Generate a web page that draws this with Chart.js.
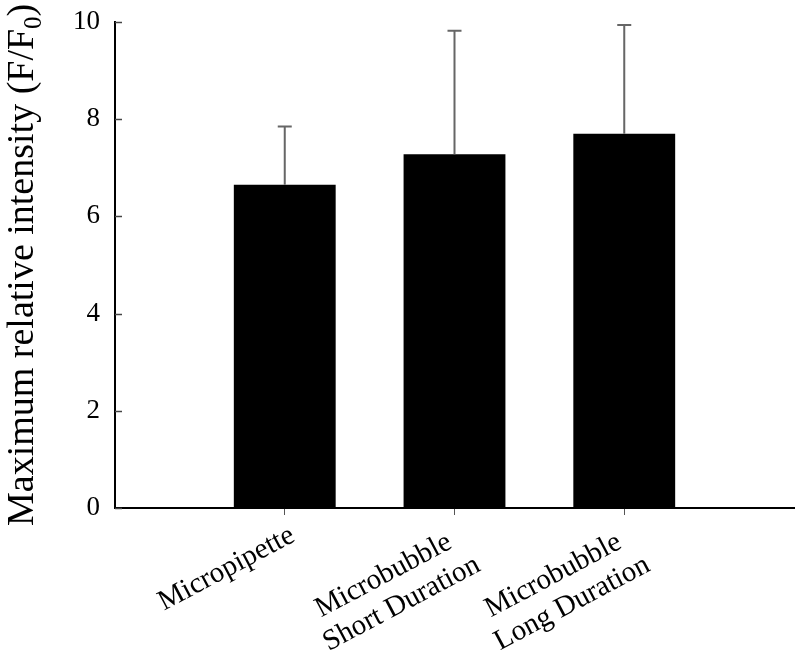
<!DOCTYPE html>
<html>
<head>
<meta charset="utf-8">
<script src="https://cdn.jsdelivr.net/npm/chart.js@4.4.1/dist/chart.umd.min.js"></script>
<style>
  html, body { margin: 0; padding: 0; background: #fff; }
  #wrap { width: 800px; height: 663px; }
</style>
</head>
<body>
<div id="wrap"><canvas id="chart"></canvas></div>
<script>
// data
const categories = ["Micropipette", ["Microbubble", "Short Duration"], ["Microbubble", "Long Duration"]];
const means = [6.65, 7.28, 7.70];
const upper = [7.85, 9.82, 9.94];   // mean + error
const yTicks = [0, 2, 4, 6, 8, 10];

// one empty slot each side so the x axis runs from 0 to 4;
// short first lines get two trailing spaces so the two lines look centred
const labels = [""].concat(categories.map(c => Array.isArray(c) ? [c[0] + "  ", c[1]] : c), [""]);
const barData = [null].concat(means, [null]);
const upperData = [null].concat(upper, [null]);

const serif = "'Liberation Serif', 'Times New Roman', serif";

// error bars (upper only, with caps)
const errorBars = {
    id: "errorBars",
    afterDatasetsDraw(chart) {
        const ctx = chart.ctx;
        const y = chart.scales.y;
        const meta = chart.getDatasetMeta(0);
        ctx.save();
        ctx.strokeStyle = "#666";
        ctx.lineWidth = 2;
        meta.data.forEach(function(bar, i) {
            if (upperData[i] == null) return;
            const top = y.getPixelForValue(upperData[i]);
            ctx.beginPath();
            ctx.moveTo(bar.x, bar.y);
            ctx.lineTo(bar.x, top);
            ctx.moveTo(bar.x - 7, top);
            ctx.lineTo(bar.x + 7, top);
            ctx.stroke();
        });
        ctx.restore();
    }
};

// y tick marks pointing inwards
const innerTicks = {
    id: "innerTicks",
    afterDraw(chart) {
        const ctx = chart.ctx;
        const y = chart.scales.y;
        const left = chart.chartArea.left;
        ctx.save();
        ctx.strokeStyle = "#444";
        ctx.lineWidth = 1.5;
        y.ticks.forEach(function(t) {
            const py = Math.round(y.getPixelForValue(t.value)) + 0.5;
            ctx.beginPath();
            ctx.moveTo(left, py);
            ctx.lineTo(left + 7, py);
            ctx.stroke();
        });
        ctx.restore();
    }
};

// rotated y title with a subscript zero
const yTitle = {
    id: "yTitle",
    afterDraw(chart) {
        const ctx = chart.ctx;
        const main = "Maximum relative intensity (F/F";
        ctx.save();
        ctx.translate(33, 526);
        ctx.rotate(-Math.PI / 2);
        ctx.fillStyle = "#000";
        ctx.textBaseline = "alphabetic";
        ctx.textAlign = "left";
        ctx.font = "38px " + serif;
        ctx.fillText(main, 0, 0);
        let w = ctx.measureText(main).width;
        ctx.font = "25px " + serif;
        ctx.fillText("0", w, 8);
        w += ctx.measureText("0").width;
        ctx.font = "38px " + serif;
        ctx.fillText(")", w, 0);
        ctx.restore();
    }
};

new Chart(document.getElementById("chart").getContext("2d"), {
    type: "bar",
    data: {
        labels: labels,
        datasets: [{
            data: barData,
            backgroundColor: "#000",
            borderWidth: 0,
            barPercentage: 0.6,
            categoryPercentage: 1
        }]
    },
    options: {
        responsive: true,
        maintainAspectRatio: false,
        animation: false,
        layout: { padding: { top: 22, right: 6, left: 0, bottom: 0 } },
        plugins: {
            legend: { display: false },
            tooltip: { enabled: false }
        },
        scales: {
            x: {
                offset: false,
                border: { color: "#000", width: 2 },
                grid: {
                    offset: false,
                    drawOnChartArea: false,
                    tickLength: 7,
                    tickColor: function(c) {
                        return (c.index === 0 || c.index === labels.length - 1) ? "rgba(0,0,0,0)" : "#555";
                    }
                },
                ticks: {
                    autoSkip: false,
                    maxRotation: 28,
                    minRotation: 28,
                    padding: 4,
                    labelOffset: 8,
                    color: "#000",
                    font: { family: serif, size: 29, lineHeight: 1.15 }
                },
                afterFit: function(s) {
                    s.height = 155;
                    s.paddingLeft = 0;
                    s.paddingRight = 0;
                }
            },
            y: {
                min: 0,
                max: 10,
                afterBuildTicks: function(s) { s.ticks = yTicks.map(v => ({ value: v })); },
                border: { color: "#000", width: 2 },
                grid: { drawOnChartArea: false, drawTicks: false },
                ticks: {
                    padding: 15,
                    color: "#000",
                    font: { family: serif, size: 27 }
                },
                afterFit: function(s) {
                    s.width = 115;
                    s.paddingTop = 0;
                    s.paddingBottom = 0;
                }
            }
        }
    },
    plugins: [errorBars, innerTicks, yTitle]
});
</script>
</body>
</html>
